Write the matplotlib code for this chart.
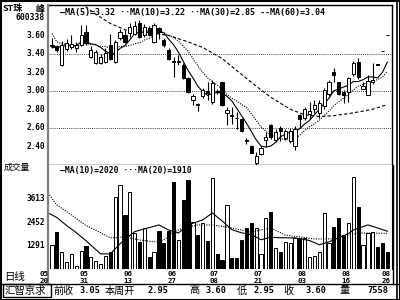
import matplotlib
matplotlib.use("Agg")
import matplotlib.pyplot as plt
from matplotlib.lines import Line2D
from matplotlib.patches import Rectangle

# daily candles, 2005-05-20 .. 2005-08-26
opens = [3.48, 3.48, 3.28, 3.45, 3.47, 3.46, 3.50, 3.64, 3.37, 3.30,
         3.30, 3.31, 3.50, 3.31, 3.57, 3.61, 3.63, 3.62, 3.74, 3.60,
         3.68, 3.53, 3.68, 3.55, 3.44, 3.32, 3.31, 3.28, 3.14, 2.90,
         2.86, 2.94, 3.00, 2.88, 3.00, 3.09, 2.76, 2.74, 2.71, 2.69,
         2.47, 2.40, 2.22, 2.31, 2.47, 2.63, 2.47, 2.60, 2.49, 2.45,
         2.40, 2.74, 2.71, 2.75, 2.80, 2.76, 2.83, 2.96, 3.20, 3.09,
         2.99, 2.99, 3.18, 3.31, 3.02, 2.95, 3.10, 3.28, 3.43, 3.60]
highs = [3.57, 3.50, 3.54, 3.56, 3.60, 3.53, 3.71, 3.71, 3.48, 3.44,
         3.40, 3.46, 3.62, 3.55, 3.67, 3.66, 3.73, 3.76, 3.77, 3.72,
         3.70, 3.73, 3.69, 3.57, 3.46, 3.37, 3.39, 3.30, 3.15, 2.97,
         2.87, 3.03, 3.09, 3.12, 3.02, 3.10, 2.82, 2.82, 2.77, 2.70,
         2.49, 2.41, 2.34, 2.40, 2.55, 2.64, 2.58, 2.62, 2.58, 2.60,
         2.62, 2.75, 2.82, 2.88, 2.90, 2.90, 3.03, 3.12, 3.25, 3.10,
         3.01, 3.15, 3.32, 3.35, 3.10, 3.17, 3.30, 3.28, 3.43, 3.60]
lows = [3.46, 3.42, 3.27, 3.43, 3.45, 3.42, 3.48, 3.50, 3.35, 3.29,
        3.29, 3.30, 3.33, 3.30, 3.55, 3.52, 3.58, 3.60, 3.57, 3.58,
        3.59, 3.52, 3.56, 3.47, 3.33, 3.15, 3.28, 3.13, 2.98, 2.85,
        2.78, 2.92, 2.90, 2.86, 2.96, 2.84, 2.63, 2.64, 2.58, 2.55,
        2.42, 2.32, 2.20, 2.30, 2.39, 2.48, 2.44, 2.46, 2.47, 2.43,
        2.36, 2.60, 2.68, 2.69, 2.76, 2.70, 2.80, 2.94, 3.09, 2.95,
        2.87, 2.88, 3.16, 3.13, 3.02, 2.95, 3.07, 3.28, 3.43, 3.60]
closes = [3.50, 3.44, 3.50, 3.52, 3.51, 3.50, 3.60, 3.52, 3.44, 3.42,
          3.37, 3.41, 3.34, 3.53, 3.64, 3.53, 3.69, 3.70, 3.58, 3.69,
          3.61, 3.71, 3.64, 3.50, 3.34, 3.31, 3.32, 3.14, 2.99, 2.94,
          2.85, 3.01, 2.98, 3.08, 2.99, 2.85, 2.79, 2.73, 2.70, 2.56,
          2.46, 2.33, 2.29, 2.38, 2.50, 2.50, 2.55, 2.56, 2.56, 2.56,
          2.58, 2.69, 2.80, 2.78, 2.85, 2.87, 3.01, 3.10, 3.17, 2.96,
          2.95, 3.14, 3.30, 3.15, 3.05, 3.11, 3.12, 3.28, 3.43, 3.60]
volumes = [1340, 1980, 995, 500, 895, 300, 1045, 1291, 750, 550,
           400, 800, 995, 3710, 4300, 2820, 3960, 1930, 1490, 2180,
           750, 995, 2030, 1440, 2030, 4450, 1590, 3560, 4550, 2480,
           1835, 2430, 1540, 4650, 895, 600, 3320, 700, 700, 1590,
           2180, 2430, 2180, 900, 2675, 2970, 1190, 1000, 1490, 1440,
           1690, 1690, 1690, 750, 800, 1000, 2920, 1440, 2230, 2675,
           1835, 2430, 4700, 3220, 1340, 1950, 1980, 1240, 1440, 990]

# moving average lines
ma5 = [3.47, 3.47, 3.48, 3.49, 3.49, 3.49, 3.53, 3.53, 3.51, 3.50,
       3.47, 3.43, 3.40, 3.41, 3.46, 3.49, 3.55, 3.62, 3.63, 3.64,
       3.65, 3.66, 3.65, 3.63, 3.56, 3.50, 3.42, 3.32, 3.22, 3.14,
       3.05, 2.99, 2.95, 2.97, 2.98, 2.98, 2.94, 2.89, 2.81, 2.73,
       2.65, 2.56, 2.47, 2.40, 2.39, 2.40, 2.44, 2.50, 2.53, 2.55,
       2.56, 2.59, 2.64, 2.68, 2.74, 2.80, 2.86, 2.92, 3.00, 3.02,
       3.04, 3.06, 3.10, 3.10, 3.12, 3.15, 3.15, 3.14, 3.20, 3.31]
ma10 = [3.62, 3.53, 3.51, 3.50, 3.49, 3.48, 3.50, 3.51, 3.50, 3.50,
        3.48, 3.48, 3.46, 3.46, 3.48, 3.48, 3.49, 3.51, 3.52, 3.55,
        3.57, 3.60, 3.63, 3.63, 3.60, 3.58, 3.54, 3.48, 3.43, 3.35,
        3.27, 3.20, 3.14, 3.10, 3.06, 3.02, 2.96, 2.92, 2.89, 2.85,
        2.82, 2.75, 2.68, 2.61, 2.56, 2.52, 2.50, 2.48, 2.47, 2.47,
        2.48, 2.52, 2.57, 2.61, 2.64, 2.68, 2.73, 2.78, 2.84, 2.88,
        2.92, 2.96, 3.01, 3.05, 3.07, 3.09, 3.11, 3.12, 3.15, 3.21]
ma30_idx = [6, 9, 12, 16, 20, 24, 28, 31, 35, 38, 42, 45, 49, 52, 55, 58, 62, 66, 69]
ma30 = [3.95, 3.83, 3.73, 3.64, 3.63, 3.60, 3.53, 3.47, 3.35, 3.22,
        3.05, 2.93, 2.80, 2.74, 2.72, 2.73, 2.76, 2.80, 2.85]

vma10_idx = [-0.8, 1, 3, 5, 7, 10, 12, 14, 17, 20, 22, 24, 26, 28, 31, 33, 35,
             37, 39, 41, 43, 45, 47, 50, 53, 55, 57, 59, 61, 62, 65, 67, 69]
vma10 = [2921, 2700, 2300, 1950, 1550, 900, 900, 1400, 2000, 2200, 2330, 2080,
         1930, 2330, 2580, 2920, 2530, 2100, 1940, 1850, 1600, 1720, 1700, 1690,
         1560, 1350, 1500, 1700, 1900, 2080, 2330, 2180, 2020]
vma20_idx = [-0.8, 1, 4, 7, 10, 12, 15, 18, 21, 23, 25, 27, 30, 33, 37, 41, 45,
             48, 51, 54, 58, 61, 63, 66, 69]
vma20 = [3909, 3316, 2822, 2300, 1950, 1690, 1740, 1590, 1490, 1590, 1980, 2180,
         2330, 2330, 2180, 1980, 2180, 1830, 1740, 1640, 1640, 1830, 1930, 1930, 1910]

price_ticks = [3.60, 3.40, 3.20, 3.00, 2.80, 2.60, 2.40]
grid_prices = [3.40, 3.00, 2.60]
vol_ticks = [3613, 2452, 1291]
date_labels = [("05", "20"), ("05", "31"), ("06", "13"), ("06", "27"), ("07", "08"),
               ("07", "21"), ("08", "03"), ("08", "16"), ("08", "26")]
date_px = [44, 84, 128, 172, 214, 258, 302, 346, 386]

MONO = "DejaVu Sans Mono"
CJK = ["Noto Sans CJK SC", "DejaVu Sans"]

W, H = 400, 300
def fx(x):
    return x / W
def fy(y):
    return 1 - y / H

fig = plt.figure(figsize=(4, 3), dpi=100)
fig.patch.set_facecolor("white")

x0, x1 = 48, 392
ax = fig.add_axes([fx(x0), fy(165), (x1 - x0) / W, 160 / H])
ax2 = fig.add_axes([fx(x0), fy(269), (x1 - x0) / W, 104 / H])
xlim = ((x0 - 52) / 4.86, (x1 - 52) / 4.86)

n = len(closes)
idx = list(range(n))
up = [c > o for o, c in zip(opens, closes)]

# candles
ax.vlines(idx, lows, highs, color="black", lw=0.8, zorder=3)
bottoms = [min(o, c) for o, c in zip(opens, closes)]
heights = [max(abs(c - o), 0.006) for o, c in zip(opens, closes)]
ax.bar(idx, heights, bottom=bottoms, width=0.66,
       color=["white" if u else "black" for u in up],
       edgecolor="black", lw=0.7, zorder=4)

ax.plot(idx, ma5, color="black", lw=0.8, zorder=2)
ax.plot(idx, ma10, color="black", lw=0.8, ls=(0, (1, 1.2)), zorder=2)
ax.plot(ma30_idx, ma30, color="black", lw=0.8, ls=(0, (3, 2)), zorder=2)
for g in grid_prices:
    ax.axhline(g, color="black", lw=0.6, ls=(0, (1, 1.5)), zorder=1)

ax.set_xlim(*xlim)
ax.set_ylim(2.195, 3.93)
ax.set_xticks([])
ax.set_yticks([])
for s in ["top", "bottom", "right"]:
    ax.spines[s].set_color("black")
    ax.spines[s].set_linewidth(1.0)
ax.spines["left"].set_visible(False)

for p in price_ticks:
    ax.text(-0.008, p, "%.2f" % p, transform=ax.get_yaxis_transform(),
            ha="right", va="center", fontsize=5.6, family=MONO, fontweight="bold")

# volume
ax2.bar(idx, volumes, width=0.66, color=["white" if u else "black" for u in up],
        edgecolor="black", lw=0.7, zorder=3)
ax2.plot(vma10_idx, vma10, color="black", lw=0.8, zorder=4)
ax2.plot(vma20_idx, vma20, color="black", lw=0.8, ls=(0, (1, 1.2)), zorder=4)
ax2.set_xlim(*xlim)
ax2.set_ylim(155, 5290)
ax2.set_xticks([])
ax2.set_yticks([])
for s in ["top", "bottom", "left"]:
    ax2.spines[s].set_visible(False)
ax2.spines["right"].set_color("black")
for v in vol_ticks:
    ax2.text(-0.008, v, str(v), transform=ax2.get_yaxis_transform(),
             ha="right", va="center", fontsize=5.6, family=MONO, fontweight="bold")

for (m, d), px in zip(date_labels, date_px):
    fig.text(fx(px), fy(273.5), m, ha="center", va="center", fontsize=5.3,
             family=MONO, fontweight="bold")
    fig.text(fx(px), fy(281), d, ha="center", va="center", fontsize=5.3,
             family=MONO, fontweight="bold")

# legends
fig.text(fx(60), fy(13), "\u2014MA(5)=3.32 \u00b7\u00b7MA(10)=3.22 \u00b7\u00b7MA(30)=2.85 --MA(60)=3.04",
         ha="left", va="center", fontsize=6, family=MONO, fontweight="bold")
fig.text(fx(60), fy(171), "\u2014MA(10)=2020 \u00b7\u00b7\u00b7MA(20)=1910",
         ha="left", va="center", fontsize=5.8, family=MONO, fontweight="bold")

# header texts
fig.text(fx(3), fy(9), "ST珠", ha="left", va="center", fontsize=6.5, family=CJK,
         fontweight="bold")
fig.text(fx(45), fy(9), "峰", ha="right", va="center", fontsize=6.5, family=CJK,
         fontweight="bold")
fig.text(fx(45), fy(18), "600338", ha="right", va="center", fontsize=5.8, family=MONO,
         fontweight="bold")
fig.text(fx(4), fy(167), "成交量", ha="left", va="center", fontsize=6.3, family=CJK)
fig.text(fx(4), fy(277), "日线", ha="left", va="center", fontsize=7.5, family=CJK)

# bottom info bar
info_cjk = [("前收", 53), ("本周开", 105), ("高", 189), ("低", 237), ("收", 283), ("量", 339)]
info_num = [("3.05", 100), ("2.95", 168), ("3.60", 227), ("2.95", 275), ("3.60", 327), ("7558", 388)]
fig.text(fx(5), fy(290.5), "汇智京求", ha="left", va="center", fontsize=7.5, family=CJK)
for t, px in info_cjk:
    fig.text(fx(px), fy(290.5), t, ha="left", va="center", fontsize=7.3, family=CJK)
for t, px in info_num:
    fig.text(fx(px), fy(290.5), t, ha="right", va="center", fontsize=6.2, family=MONO,
             fontweight="bold")

# frames
def fline(xs, ys, **kw):
    fig.add_artist(Line2D([fx(v) for v in xs], [fy(v) for v in ys], **kw))

fline([48, 48], [5, 283.5], color="#7f7f7f", lw=1.6)
fline([0, 400], [283.5, 283.5], color="black", lw=1.0)
fline([396.5, 396.5], [0, 300], color="black", lw=1.2)
fline([393, 393], [165, 283.5], color="black", lw=1.0)
fig.add_artist(Rectangle((fx(3), fy(297)), fx(48), 13 / H, fill=False,
                         edgecolor="black", lw=1.0, transform=fig.transFigure))
fig.add_artist(Rectangle((0, 0), 1, 1, fill=False, edgecolor="black", lw=2.2,
                         transform=fig.transFigure))

fig.savefig("out.png", dpi=100)
